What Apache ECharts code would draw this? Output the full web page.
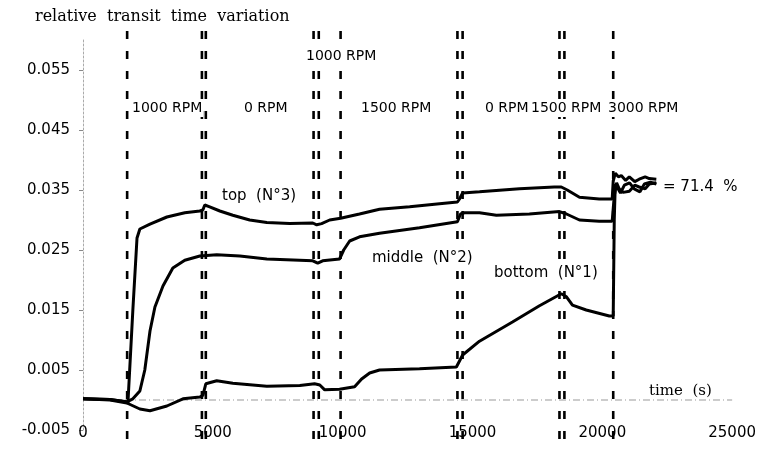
<!DOCTYPE html>
<html>
<head>
<meta charset="utf-8">
<script src="https://cdn.jsdelivr.net/npm/echarts@6/dist/echarts.min.js"></script>
<style>
  html, body { margin: 0; padding: 0; background: #fff; }
  #chart { width: 759px; height: 452px; }
</style>
</head>
<body>
<div id="chart"></div>
<script>
// Times (s) at which the rotation speed was switched
const switchTimes = [1700, 4580, 4730, 8880, 9080, 9920, 14420, 14620, 18350, 18540, 20420];

// Sensor "top (N°3)"
const topT = [0, 1040, 1615, 1730, 1920, 2080, 2190, 2580, 3230, 3920, 4500, 4620, 4690, 4880, 5270, 5770, 6420, 7080, 7960, 8850, 9000, 9190, 9500, 9920, 10650, 11420, 12580, 13730, 14420, 14500, 14620, 15270, 16810, 18150, 18420, 18650, 19120, 19880, 20380, 20420, 20500, 20620, 20730, 20900, 21040, 21250, 21420, 21650, 21810, 22080];
const topV = [0.0002, 0.0001, -0.0003, -0.0005, 0.015, 0.027, 0.0285, 0.0293, 0.0305, 0.0312, 0.0315, 0.0317, 0.0325, 0.0322, 0.0315, 0.0308, 0.030, 0.0296, 0.0294, 0.0295, 0.0292, 0.0294, 0.030, 0.0303, 0.031, 0.0318, 0.0322, 0.0327, 0.033, 0.0335, 0.0345, 0.0347, 0.0352, 0.0355, 0.0355, 0.035, 0.0338, 0.0335, 0.0335, 0.0365, 0.0378, 0.0372, 0.0374, 0.0366, 0.0372, 0.0364, 0.0368, 0.0372, 0.0369, 0.0368];

// Sensor "middle (N°2)"
const midT = [0, 1040, 1690, 1920, 2190, 2380, 2580, 2770, 3080, 3460, 3920, 4500, 5150, 6040, 7080, 8850, 9040, 9230, 9880, 10040, 10270, 10650, 11420, 12960, 14420, 14540, 14690, 15270, 15920, 17190, 18350, 18620, 19120, 19880, 20380, 20460, 20550, 20650, 20800, 21040, 21250, 21420, 21650, 21810, 22080];
const midV = [0.0002, 0.0001, -0.0003, 0.0002, 0.0015, 0.005, 0.0115, 0.0155, 0.019, 0.022, 0.0233, 0.024, 0.0242, 0.024, 0.0235, 0.0232, 0.0228, 0.0232, 0.0235, 0.025, 0.0265, 0.0272, 0.0278, 0.0287, 0.0297, 0.031, 0.0312, 0.0312, 0.0308, 0.031, 0.0314, 0.031, 0.030, 0.0298, 0.0298, 0.034, 0.0362, 0.0352, 0.0346, 0.0348, 0.0358, 0.0355, 0.0352, 0.036, 0.0362];

// Sensor "bottom (N°1)"
const botT = [0, 1040, 1690, 2190, 2580, 3230, 3850, 4500, 4620, 4730, 5150, 5770, 7080, 8350, 8920, 9120, 9310, 9880, 10460, 10730, 11040, 11420, 12960, 14380, 14500, 14620, 15270, 16540, 17580, 18420, 18620, 18850, 19380, 20270, 20420, 20460, 20500, 20700, 20850, 21050, 21230, 21450, 21620, 21850, 22080];
const botV = [0.0002, 0.0, -0.0005, -0.0015, -0.0018, -0.001, 0.0002, 0.0005, 0.0008, 0.0027, 0.0032, 0.0028, 0.0023, 0.0024, 0.0027, 0.0025, 0.0017, 0.0018, 0.0022, 0.0035, 0.0045, 0.005, 0.0052, 0.0055, 0.0065, 0.0075, 0.0098, 0.013, 0.0157, 0.0177, 0.0172, 0.0158, 0.015, 0.014, 0.014, 0.030, 0.036, 0.0345, 0.0358, 0.0362, 0.0352, 0.0347, 0.036, 0.0363, 0.036];

// Speed annotations
const speedLabelsLow = ['1000 RPM', '0 RPM', '1500 RPM', '0 RPM', '1500 RPM', '3000 RPM'];
const speedLabelsHigh = ['1000 RPM'];

const zip = (t, v) => t.map((x, i) => [x, v[i]]);

const chart = echarts.init(document.getElementById('chart'), null, { renderer: 'canvas' });

const sans = '"DejaVu Sans", sans-serif';
const serif = '"DejaVu Serif", "Liberation Serif", serif';

const curveStyle = { color: '#000', width: 3 };

// vertical dashed switch markers, drawn slightly beyond the plotting area
const markerSeries = switchTimes.map(t => ({
  type: 'line',
  data: [[t, 0.0615], [t, -0.0068]],
  symbol: 'none',
  clip: false,
  silent: true,
  z: 3,
  lineStyle: { color: '#000', width: 2.6, type: [8, 12] },
  animation: false
}));

const textEl = (text, x, y, font, bg) => ({
  type: 'text',
  z: 100,
  style: {
    text: text, x: x, y: y,
    font: font,
    fill: '#000',
    textAlign: 'left',
    textVerticalAlign: 'middle',
    align: 'left',
    verticalAlign: 'middle',
    backgroundColor: bg ? '#fff' : null,
    padding: bg ? [2, 1, 2, 1] : 0
  }
});

const lowX = [131, 243, 360, 484, 530, 607];
const f15 = '15px ' + sans;
const f14 = '14px ' + sans;

chart.setOption({
  animation: false,
  backgroundColor: '#fff',
  grid: { left: 83, right: 26, top: 40, bottom: 22, containLabel: false },
  xAxis: {
    type: 'value',
    min: 0, max: 25000, interval: 5000,
    axisLine: { show: false },
    axisTick: { show: false },
    splitLine: { show: false },
    axisLabel: {
      color: '#000', fontFamily: sans, fontSize: 15,
      margin: 3, verticalAlign: 'middle',
      formatter: v => String(v)
    }
  },
  yAxis: {
    type: 'value',
    min: -0.005, max: 0.06, interval: 0.01,
    axisLine: { show: true, lineStyle: { color: '#aaa', width: 1, type: [2, 2] } },
    axisTick: { show: true, length: 4, lineStyle: { color: '#888', width: 1 } },
    splitLine: { show: false },
    axisLabel: {
      color: '#000', fontFamily: sans, fontSize: 15, margin: 13,
      showMaxLabel: false,
      formatter: v => v.toFixed(3)
    }
  },
  series: [
    {
      type: 'line',
      data: [[0, 0], [25000, 0]],
      symbol: 'none', silent: true, z: 1,
      lineStyle: { color: '#999', width: 1, type: [7, 3, 1, 3] }
    },
    ...markerSeries,
    { type: 'line', name: 'top (N°3)', data: zip(topT, topV), symbol: 'none', z: 5, lineStyle: curveStyle },
    { type: 'line', name: 'middle (N°2)', data: zip(midT, midV), symbol: 'none', z: 5, lineStyle: curveStyle },
    { type: 'line', name: 'bottom (N°1)', data: zip(botT, botV), symbol: 'none', z: 5, lineStyle: curveStyle }
  ],
  graphic: [
    textEl('relative  transit  time  variation', 35, 17, '16px ' + serif, false),
    textEl(speedLabelsHigh[0], 305, 56, f14, true),
    ...speedLabelsLow.map((s, i) => textEl(s, lowX[i], 108, f14, true)),
    textEl('top  (N°3)', 222, 196, f15, false),
    textEl('middle  (N°2)', 371, 258, f15, true),
    textEl('bottom  (N°1)', 493, 273, f15, true),
    textEl('= 71.4  %', 663, 187, f15, false),
    textEl('time  (s)', 649, 391, '15px ' + serif, false)
  ]
});
</script>
</body>
</html>
